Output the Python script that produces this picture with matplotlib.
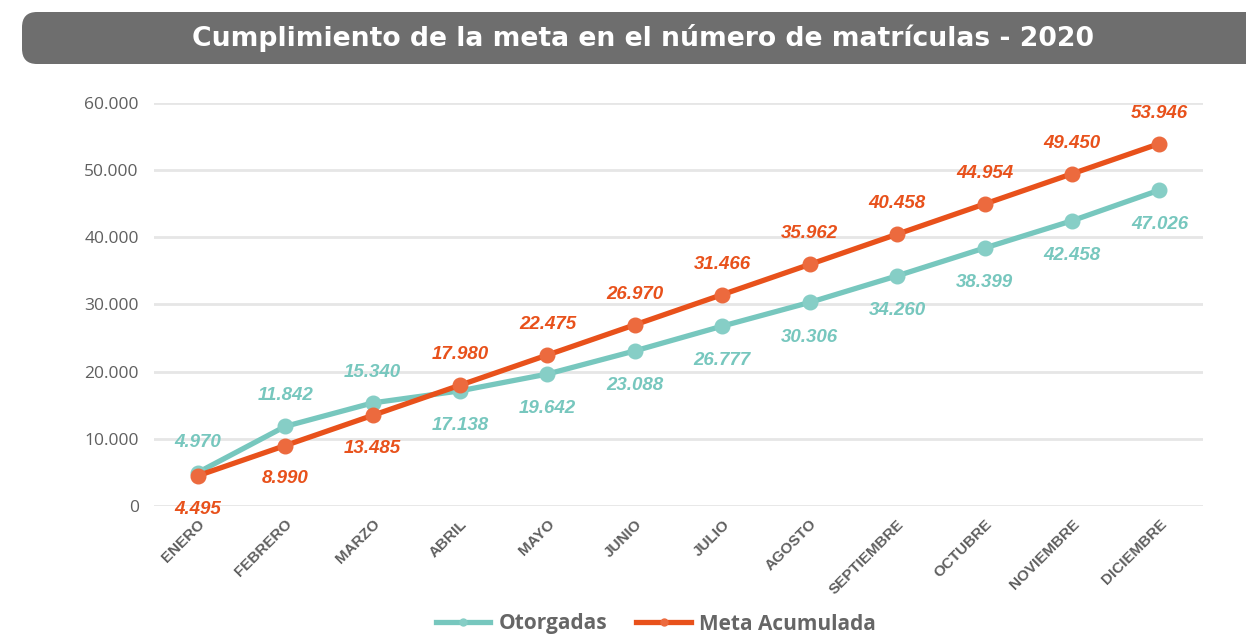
import matplotlib.pyplot as plt
from matplotlib.patches import FancyBboxPatch
from matplotlib.ticker import FuncFormatter

meses = ['ENERO', 'FEBRERO', 'MARZO', 'ABRIL', 'MAYO', 'JUNIO', 'JULIO',
         'AGOSTO', 'SEPTIEMBRE', 'OCTUBRE', 'NOVIEMBRE', 'DICIEMBRE']
otorgadas = [4970, 11842, 15340, 17138, 19642, 23088, 26777, 30306, 34260, 38399, 42458, 47026]
meta = [4495, 8990, 13485, 17980, 22475, 26970, 31466, 35962, 40458, 44954, 49450, 53946]

teal = '#77c7be'
orange = '#e8511b'
gray = '#5f5f5f'

def miles(v):
    return '{:,.0f}'.format(v).replace(',', '.')

fig = plt.figure(figsize=(12.46, 6.37), dpi=100)
ax = fig.add_axes([0.1236, 0.2057, 0.842, 0.6327])

# barra del titulo
bar = FancyBboxPatch((22 / 1246, (637 - 64) / 637), 1.1, 52 / 637,
                     boxstyle='round,pad=0,rounding_size=0.012',
                     transform=fig.transFigure, facecolor='#6e6e6e',
                     edgecolor='none', mutation_aspect=2)
fig.patches.append(bar)
fig.text(643 / 1246, (637 - 38) / 637, 'Cumplimiento de la meta en el número de matrículas - 2020',
         color='white', fontsize=19.2, fontweight='bold', family='DejaVu Sans',
         ha='center', va='center')

x = list(range(len(meses)))
ax.plot(x, otorgadas, color=teal, lw=3.8, marker='o', ms=10.5, mfc='#86cec6',
        mec='#86cec6', label='Otorgadas', zorder=3)
ax.plot(x, meta, color=orange, lw=3.8, marker='o', ms=10.5, mfc='#ec6a3e',
        mec='#ec6a3e', label='Meta Acumulada', zorder=4)

for i in x:
    off_o = 22 if i < 3 else -25
    off_m = -24 if i < 3 else 22
    ax.annotate(miles(otorgadas[i]), (i, otorgadas[i]), xytext=(0, off_o),
                textcoords='offset points', ha='center', va='center',
                color=teal, fontsize=13.5, fontweight='bold', fontstyle='italic',
                family='Liberation Sans', annotation_clip=False)
    ax.annotate(miles(meta[i]), (i, meta[i]), xytext=(0, off_m),
                textcoords='offset points', ha='center', va='center',
                color=orange, fontsize=13.5, fontweight='bold', fontstyle='italic',
                family='Liberation Sans', annotation_clip=False)

ax.set_xlim(-0.5, 11.5)
ax.set_ylim(0, 60000)
ax.set_yticks(range(0, 60001, 10000))
ax.yaxis.set_major_formatter(FuncFormatter(lambda v, p: miles(v)))
ax.set_xticks(x)
ax.set_xticklabels(meses, rotation=45, ha='right', rotation_mode='anchor',
                   fontsize=11, fontweight='bold', color=gray, family='Liberation Sans')
for lab in ax.get_yticklabels():
    lab.set_fontsize(12.5)
    lab.set_color(gray)
    lab.set_family('Open Sans')
ax.tick_params(axis='both', length=0)
ax.tick_params(axis='y', pad=11)
ax.tick_params(axis='x', pad=8)
ax.grid(True, axis='y', color='#e6e6e6', lw=2)
ax.set_axisbelow(True)
for s in ax.spines.values():
    s.set_visible(False)

leg = fig.legend(loc='center', bbox_to_anchor=(656 / 1246, (637 - 624) / 637), ncol=2,
                 frameon=False, handlelength=2.6, columnspacing=1.4, handletextpad=0.4,
                 borderpad=0.1, prop={'family': 'Open Sans', 'weight': 'bold', 'size': 15})
for t in leg.get_texts():
    t.set_color('#666666')
for h in leg.legend_handles:
    h.set_markersize(5)

fig.savefig('out.png', dpi=100)
